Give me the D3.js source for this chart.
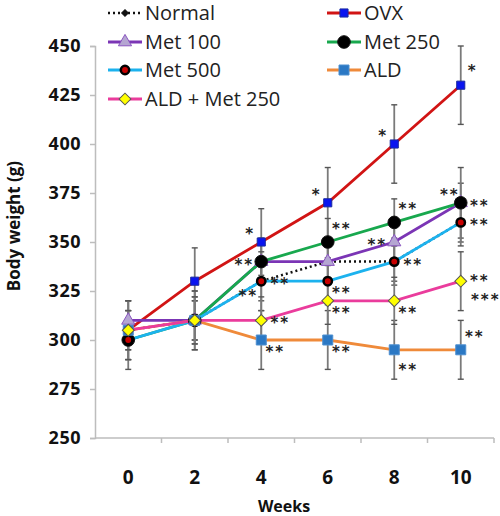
<!DOCTYPE html>
<html><head><meta charset="utf-8">
<script src="https://cdn.jsdelivr.net/npm/d3@7"></script>
<style>body{margin:0;background:#fff}svg{display:block}</style>
</head><body>
<svg id="c" width="500" height="516"></svg>
<script>
// ---- data ----
const weeks = [0, 2, 4, 6, 8, 10];
const yTicks = [250, 275, 300, 325, 350, 375, 400, 425, 450];
const seriesNames = ["Normal", "OVX", "Met 100", "Met 250", "Met 500", "ALD", "ALD + Met 250"];
const normal   = [305, 310, 330, 340, 340, 360];
const ovx      = [305, 330, 350, 370, 400, 430];
const met100   = [310, 310, 340, 340, 350, 370];
const met250   = [300, 310, 340, 350, 360, 370];
const met500   = [300, 310, 330, 330, 340, 360];
const ald      = [305, 310, 300, 300, 295, 295];
const aldMet   = [305, 310, 310, 320, 320, 330];
const normalErr = [10, 10, 10, 10, 10, 10];
const ovxErr    = [15, 17, 17, 18, 20, 20];
const met100Err = [10, 10, 10, 10, 10, 10];
const met250Err = [10, 12, 12, 12, 12, 18];
const met500Err = [15, 15, 15, 12, 12, 12];
const aldErr    = [15, 15, 15, 15, 15, 15];
const aldMetErr = [10, 12, 12, 12, 12, 15];
// significance marks: series, week, text, side
const marks = [
  ["OVX", 4, "*", "tl"], ["OVX", 6, "*", "tl"], ["OVX", 8, "*", "tl"], ["OVX", 10, "*", "tr2"],
  ["Met 250", 4, "**", "l"], ["Met 250", 6, "**", "tr"], ["Met 250", 8, "**", "tr"],
  ["Met 250", 10, "**", "tl"], ["Met 250", 10, "**", "r"],
  ["Met 100", 8, "**", "l"],
  ["Met 500", 4, "**", "bl"], ["Met 500", 4, "**", "r"], ["Met 500", 6, "**", "br"],
  ["Met 500", 8, "**", "r"], ["Met 500", 10, "**", "r"],
  ["ALD + Met 250", 4, "**", "r"], ["ALD + Met 250", 6, "**", "br"], ["ALD + Met 250", 8, "**", "br"],
  ["ALD + Met 250", 10, "**", "r1"], ["ALD + Met 250", 10, "***", "r2"],
  ["ALD", 4, "**", "br"], ["ALD", 6, "**", "br"], ["ALD", 8, "**", "bb"], ["ALD", 10, "**", "tr"]
];

// ---- styles ----
const styles = {
  "Normal":        {color:"#111", dash:"2,3", width:2.5, marker:"diamondSq", size:22, fill:"#111", stroke:"#111", sw:1},
  "OVX":           {color:"#d11414", dash:null, width:2.8, marker:"square", size:66, fill:"#0a14f0", stroke:"#1a2aa0", sw:1},
  "Met 100":       {color:"#7b35b5", dash:null, width:2.8, marker:"triangle", size:75, fill:"#b5a6d2", stroke:"#8a55c0", sw:1},
  "Met 250":       {color:"#18a84e", dash:null, width:2.8, marker:"circle", size:125, fill:"#000", stroke:"#111", sw:1},
  "Met 500":       {color:"#1cb2ee", dash:null, width:2.8, marker:"circle", size:55, fill:"#c80000", stroke:"#000", sw:2.5},
  "ALD":           {color:"#ef8a3a", dash:null, width:2.8, marker:"square", size:100, fill:"#2b78c4", stroke:"#4d8fd0", sw:1},
  "ALD + Met 250": {color:"#ea3c9c", dash:null, width:2.8, marker:"diamondSq", size:70, fill:"#ffff00", stroke:"#555", sw:1}
};
const values = {"Normal":normal, "OVX":ovx, "Met 100":met100, "Met 250":met250, "Met 500":met500, "ALD":ald, "ALD + Met 250":aldMet};
const errs = {"Normal":normalErr, "OVX":ovxErr, "Met 100":met100Err, "Met 250":met250Err, "Met 500":met500Err, "ALD":aldErr, "ALD + Met 250":aldMetErr};

const svg = d3.select("#c");
const pLeft = 95, pRight = 494, pTop = 46, pBottom = 438;
const x = d3.scaleBand().domain(weeks).range([pLeft, pRight]).padding(0);
const cx = w => x(w) + x.bandwidth() / 2;
const y = d3.scaleLinear().domain([250, 450]).range([pBottom, pTop]);
const axisColor = "#bdbdbd";
const font = "'Open Sans', sans-serif";

// y axis
const yAx = svg.append("g").attr("transform", `translate(${pLeft},0)`)
  .call(d3.axisLeft(y).tickValues(yTicks).tickSize(5).tickPadding(9).tickFormat(d3.format("d")));
yAx.select(".domain").attr("stroke", axisColor).attr("stroke-width", 1.5);
yAx.selectAll(".tick line").attr("stroke", axisColor).attr("stroke-width", 1.5);
yAx.selectAll(".tick text").attr("font-family", font).attr("font-weight", "bold")
  .attr("font-size", 18).attr("letter-spacing", 0.5).attr("fill", "#111");

// x axis
const xAx = svg.append("g").attr("transform", `translate(0,${pBottom})`)
  .call(d3.axisBottom(x).tickSize(0).tickPadding(33));
xAx.select(".domain").attr("stroke", axisColor).attr("stroke-width", 1.5).attr("d", `M${pLeft},0H${pRight}`);
xAx.selectAll(".tick text").attr("font-family", font).attr("font-weight", "bold")
  .attr("font-size", 19).attr("fill", "#111");
xAx.selectAll(".bt").data(weeks).enter().append("line")
  .attr("x1", d => x(d) + x.bandwidth()).attr("x2", d => x(d) + x.bandwidth())
  .attr("y1", 0).attr("y2", 5).attr("stroke", axisColor).attr("stroke-width", 1.5);

// axis titles
svg.append("text").attr("x", 284).attr("y", 512).attr("text-anchor", "middle")
  .attr("font-family", font).attr("font-weight", "bold").attr("font-size", 16).attr("fill", "#111").text("Weeks");
svg.append("text").attr("transform", "translate(20,226) rotate(-90)").attr("text-anchor", "middle")
  .attr("font-family", font).attr("font-weight", "bold").attr("font-size", 17).attr("fill", "#111").text("Body weight (g)");

// error bars
const eb = svg.append("g");
seriesNames.forEach(s => {
  weeks.forEach((w, i) => {
    const v = values[s][i], e = errs[s][i], X = cx(w);
    eb.append("line").attr("x1", X).attr("x2", X).attr("y1", y(v - e)).attr("y2", y(v + e))
      .attr("stroke", "#7a7a7a").attr("stroke-width", 1.8);
    [v - e, v + e].forEach(b => eb.append("line").attr("x1", X - 3).attr("x2", X + 3)
      .attr("y1", y(b)).attr("y2", y(b)).attr("stroke", "#555").attr("stroke-width", 1.4));
  });
});

// lines
const line = d3.line().x((d, i) => cx(weeks[i])).y(d => y(d));
seriesNames.forEach(s => {
  const st = styles[s];
  svg.append("path").datum(values[s]).attr("d", line).attr("fill", "none")
    .attr("stroke", st.color).attr("stroke-width", st.width)
    .attr("stroke-dasharray", st.dash);
});

const symMap = {diamondSq: d3.symbolSquare, square: d3.symbolSquare, triangle: d3.symbolTriangle, circle: d3.symbolCircle};
function marker(g, s, X, Y) {
  const st = styles[s];
  const rot = st.marker === "diamondSq" ? " rotate(45)" : "";
  g.append("path").attr("d", d3.symbol(symMap[st.marker], st.size)())
    .attr("transform", `translate(${X},${Y})${rot}`)
    .attr("fill", st.fill).attr("stroke", st.stroke).attr("stroke-width", st.sw);
}
// markers
const mg = svg.append("g");
seriesNames.forEach(s => values[s].forEach((v, i) => marker(mg, s, cx(weeks[i]), y(v))));

// significance marks
const offs = {tl:[-11, -11], tr:[14, -16], tr2:[12, -17], l:[-17, 0], r:[19, 0], r1:[19, -3], bl:[-13, 12],
              br:[14, 9], bb:[14, 17], r2:[25, 16]};
const sg = svg.append("g");
marks.forEach(([s, w, t, side]) => {
  const i = weeks.indexOf(w);
  const o = offs[side];
  sg.append("text").attr("x", cx(w) + o[0]).attr("y", y(values[s][i]) + o[1] + 8)
    .attr("text-anchor", "middle").attr("font-family", "'DejaVu Sans', sans-serif")
    .attr("font-weight", "bold").attr("font-size", 15).attr("letter-spacing", 2)
    .attr("fill", "#222").text(t);
});

// legend
const legendPos = {
  "Normal": [108, 13], "Met 100": [108, 42], "Met 500": [108, 70], "ALD + Met 250": [108, 99],
  "OVX": [327, 13], "Met 250": [327, 42], "ALD": [327, 70]
};
const lg = svg.append("g");
seriesNames.forEach(s => {
  const [lx, ly] = legendPos[s];
  const st = styles[s];
  lg.append("line").attr("x1", lx).attr("x2", lx + 34).attr("y1", ly).attr("y2", ly)
    .attr("stroke", st.color).attr("stroke-width", st.width).attr("stroke-dasharray", st.dash);
  marker(lg, s, lx + 17, ly);
  lg.append("text").attr("x", lx + 37).attr("y", ly + 7).attr("font-family", font)
    .attr("font-size", 20).attr("fill", "#222").text(s);
});
</script>
</body></html>
